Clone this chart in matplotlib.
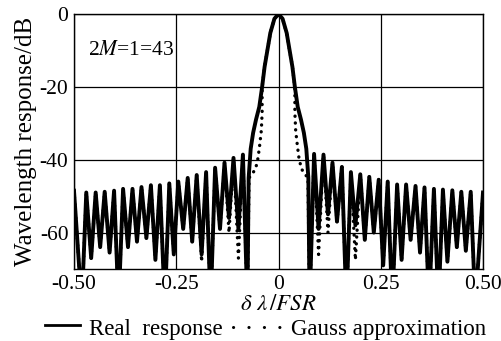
import matplotlib
matplotlib.use("Agg")
import matplotlib.pyplot as plt
from matplotlib.lines import Line2D

plt.rcParams['font.family'] = ['Liberation Serif', 'DejaVu Serif']
plt.rcParams['mathtext.fontset'] = 'stix'
plt.rcParams['axes.unicode_minus'] = False

# main lobe, right half (mirrored for the left half)
main_x = [0.0, 0.010, 0.020, 0.034, 0.040, 0.047, 0.055, 0.062, 0.068, 0.073]
main_db = [0.0, -1.3, -5.2, -14.5, -20.0, -25.5, -29.0, -32.6, -37.0, -45.0]

# gauss approximation main lobe, right half
gauss_x = [0.0, 0.010, 0.020, 0.034, 0.040, 0.040, 0.042, 0.046, 0.050, 0.056, 0.065, 0.072]
gauss_db = [0.0, -1.3, -5.2, -14.5, -20.0, -27.0, -32.0, -36.0, -39.5, -42.5, -44.0, -45.0]

# sidelobe nulls (|x|) and peaks (|x|)
null_x = [0.076, 0.098, 0.121, 0.143, 0.166, 0.188, 0.211, 0.233, 0.256, 0.278,
          0.301, 0.323, 0.346, 0.368, 0.391, 0.413, 0.436, 0.458, 0.481]
peak_x = [0.087, 0.110, 0.132, 0.155, 0.177, 0.200, 0.222, 0.245, 0.267, 0.290,
          0.312, 0.335, 0.357, 0.380, 0.402, 0.425, 0.447, 0.470, 0.500]

null_db_right = [-80, -59, -55, -57, -80, -58, -62, -60, -69, -80,
                 -67.5, -62, -65.5, -80, -80, -68, -64, -65, -80]
peak_db_right = [-38.4, -38.6, -40.8, -42.0, -43.4, -44.0, -44.7, -45.5, -46.0, -46.8,
                 -46.8, -47.2, -47.6, -48.0, -48.2, -48.4, -48.8, -48.8, -49.0]
null_db_left = [-80, -59, -56, -59, -80, -66, -62.5, -59, -66, -80,
                -67.5, -61.5, -62.5, -64, -80, -65.5, -64, -67, -80]
peak_db_left = [-38.6, -39.5, -40.8, -42.2, -43.4, -44.2, -45.0, -46.0, -46.5, -47.0,
                -47.0, -47.5, -48.0, -48.0, -48.5, -48.8, -49.0, -49.0, -48.5]

# gauss curve nulls that differ from the real response
gauss_null_right = [-80, -66, -60, -57, -80, -67.5, -62, -60, -69, -80,
                    -67.5, -62, -65.5, -80, -80, -68, -64, -65, -80]
gauss_null_left = [-80, -67, -60, -59, -80, -68, -62.5, -59, -66, -80,
                   -67.5, -61.5, -62.5, -64, -80, -65.5, -64, -67, -80]


def half_curve(mx, mdb, nulls, peaks):
    xs = list(mx)
    ys = list(mdb)
    for nx, nd, px, pd in zip(null_x, nulls, peak_x, peaks):
        xs += [nx, px]
        ys += [nd, pd]
    return xs, ys


def full_curve(mx, mdb, nl, pl, nr, pr):
    xl, yl = half_curve(mx, mdb, nl, pl)
    xr, yr = half_curve(mx, mdb, nr, pr)
    xs = [-v for v in xl[::-1]] + xr[1:]
    ys = yl[::-1] + yr[1:]
    return xs, ys


real_x, real_y = full_curve(main_x, main_db, null_db_left, peak_db_left,
                            null_db_right, peak_db_right)
gx, gy = full_curve(gauss_x, gauss_db, gauss_null_left, peak_db_left,
                    gauss_null_right, peak_db_right)

W, H = 502, 341
fig = plt.figure(figsize=(W / 100, H / 100), dpi=100)
ax = fig.add_axes([74 / W, 1 - 269 / H, 409 / W, 255 / H])

dot_style = (0, (0.05, 2.0))
ax.plot(gx, gy, color='black', lw=2.4, linestyle=dot_style,
        dash_capstyle='round', zorder=2)
ax.plot(real_x, real_y, color='black', lw=2.8, solid_joinstyle='round', zorder=3)

ax.set_xlim(-0.5, 0.5)
ax.set_ylim(-70, 0)
ax.set_xticks([-0.5, -0.25, 0, 0.25, 0.5])
ax.set_xticklabels(['-0.50', '-0.25', '0', '0.25', '0.50'])
ax.set_yticks([0, -20, -40, -60])
ax.set_yticklabels(['0', '-20', '-40', '-60'])
ax.tick_params(length=0, labelsize=15.5, pad=4)
ax.grid(True, color='black', lw=0.9)
for s in ax.spines.values():
    s.set_linewidth(1.0)

ax.text(-0.465, -10, '2$M$=1=43', fontsize=15.5, ha='left', va='center')
ax.set_xlabel(r'$\delta\ \lambda\,/FSR$', fontsize=16.5, labelpad=0)
ax.set_ylabel('Wavelength response/dB', fontsize=18, labelpad=2)

# legend drawn below the axes
fig.add_artist(Line2D([45 / W, 80 / W], [1 - 325 / H] * 2, color='black',
                      lw=2.0, transform=fig.transFigure))
fig.text(89 / W, 1 - 329 / H, 'Real  response', fontsize=16.5, va='center')
fig.add_artist(Line2D([233 / W, 280 / W], [1 - 327 / H] * 2, color='black',
                      lw=2.2, linestyle=(0, (0.05, 5.0)), dash_capstyle='round',
                      transform=fig.transFigure))
fig.text(291 / W, 1 - 329 / H, 'Gauss approximation', fontsize=16.5, va='center')

fig.savefig('out.png', dpi=100)
